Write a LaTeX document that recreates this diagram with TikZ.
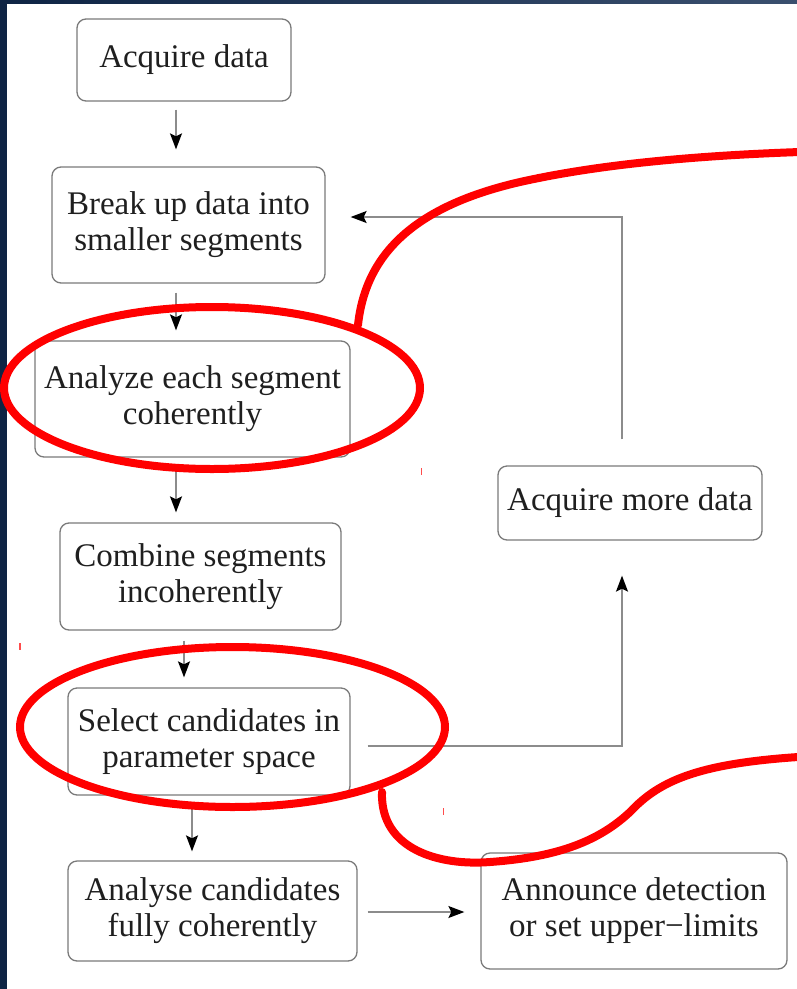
\documentclass[tikz,border=0pt]{standalone}
\usepackage{fontspec}
\setmainfont{Liberation Serif}
\usetikzlibrary{arrows.meta,calc}
\definecolor{navy}{HTML}{0E2444}
\definecolor{navylight}{HTML}{3A4F6E}
\definecolor{boxgray}{HTML}{7A7A7A}
\definecolor{linegray}{HTML}{8C8C8C}
\begin{document}
\begin{tikzpicture}[x=1pt,y=-1pt,
  box/.style={draw=boxgray, line width=1.3pt, rounded corners=9pt, align=center,
    inner sep=0pt, text=black!88, font=\fontsize{33}{36}\selectfont},
  conn/.style={draw=linegray, line width=1.6pt,
    -{Stealth[length=16pt,width=12pt,inset=3pt,color=black]}},
  hl/.style={draw=red, line width=8pt},
  speck/.style={draw=red!70, line width=1.2pt}]
\useasboundingbox (0,0) rectangle (797,989);
% background
\fill[navy] (0,0) rectangle (797,989);
\shade[left color=navy, right color=navylight] (0,0) rectangle (797,3.5);
\fill[white] (7,3.5) rectangle (797,989);
% boxes
\node[box, minimum width=214pt, minimum height=82pt]  (b1) at (184,60)    {Acquire data};
\node[box, minimum width=273pt, minimum height=116pt] (b2) at (188.5,225) {Break up data into\\smaller segments};
\node[box, minimum width=315pt, minimum height=116pt] (b3) at (192.5,399) {Analyze each segment\\coherently};
\node[box, minimum width=281pt, minimum height=107pt] (b4) at (200.5,576.5) {Combine segments\\incoherently};
\node[box, minimum width=282pt, minimum height=107pt] (b5) at (209,741.5) {Select candidates in\\parameter space};
\node[box, minimum width=289pt, minimum height=100pt] (b6) at (212.5,911) {Analyse candidates\\fully coherently};
\node[box, minimum width=306pt, minimum height=116pt] (b7) at (634,911)   {Announce detection\\or set upper−limits};
\node[box, minimum width=264pt, minimum height=74pt]  (b8) at (630,503)   {Acquire more data};
% helper coordinates
\coordinate (cA) at (176,0);
\coordinate (cB) at (184,0);
\coordinate (cC) at (192,0);
\coordinate (cR) at (622,0);
\coordinate (r2) at (0,217);
\coordinate (r5) at (0,746);
\coordinate (r6) at (0,912);
% connectors
\draw[conn, shorten <=8pt, shorten >=17pt] (b1.south -| cA) -- (b2.north -| cA);
\draw[conn, shorten <=9pt, shorten >=10pt] (b2.south -| cA) -- (b3.north -| cA);
\draw[conn, shorten <=8pt, shorten >=10pt] (b3.south -| cA) -- (b4.north -| cA);
\draw[conn, shorten <=10pt, shorten >=10pt] (b4.south -| cB) -- (b5.north -| cB);
\draw[conn, shorten <=10pt, shorten >=9pt] (b5.south -| cC) -- (b6.north -| cC);
\draw[conn, shorten <=10pt, shorten >=16pt] (b6.east |- r6) -- (b7.west |- r6);
\draw[conn, shorten <=17pt, shorten >=35pt] (b5.east |- r5) -| (b8.south -| cR);
\draw[conn, shorten <=26pt, shorten >=25pt] (b8.north -| cR) |- (b2.east |- r2);
% red highlights
\draw[hl] (212,388) ellipse [x radius=208pt, y radius=81pt];
\draw[hl] (232.5,727) ellipse [x radius=212.5pt, y radius=80pt];
\draw[hl, line cap=round] (358,325) .. controls (366,250) and (420,205) .. (520,182)
  .. controls (600,164) and (700,155) .. (815,151.5);
\draw[hl, line cap=round] (382,792) .. controls (380,850) and (440,866) .. (490,862)
  .. controls (560,857) and (600,840) .. (630,812)
  .. controls (660,780) and (700,762) .. (815,756);
% small red specks
\draw[speck] (421.5,468) -- (421.5,475);
\draw[speck] (20,643) -- (20,650);
\draw[speck] (443.5,808) -- (443.5,815);
\end{tikzpicture}
\end{document}
